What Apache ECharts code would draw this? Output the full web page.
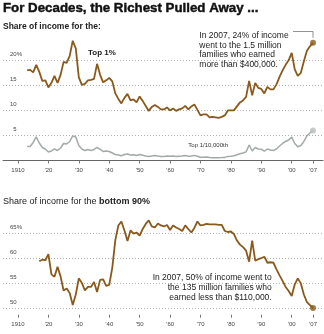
<!DOCTYPE html>
<html><head><meta charset="utf-8">
<script src="https://cdn.jsdelivr.net/npm/echarts@6/dist/echarts.min.js"></script>
<style>html,body{margin:0;padding:0;background:#fff}#c{width:324px;height:334px}</style>
</head><body><div id="c"></div>
<script>
// ---------- data ----------
const top1Years = [1913,1914,1915,1916,1917,1918,1919,1920,1921,1922,1923,1924,1925,1926,1927,1928,1929,1930,1931,1932,1933,1934,1935,1936,1937,1938,1939,1940,1941,1942,1943,1944,1945,1946,1947,1948,1949,1950,1951,1952,1953,1954,1955,1956,1957,1958,1959,1960,1961,1962,1963,1964,1965,1966,1967,1968,1969,1970,1971,1972,1973,1974,1975,1976,1977,1978,1979,1980,1981,1982,1983,1984,1985,1986,1987,1988,1989,1990,1991,1992,1993,1994,1995,1996,1997,1998,1999,2000,2001,2002,2003,2004,2005,2006,2007];
const top1Share = [18.0,18.1,17.6,19.1,17.7,15.9,16.0,14.6,15.5,16.9,15.5,17.1,19.7,19.5,20.9,23.9,22.4,16.6,15.1,15.3,16.0,16.1,16.3,19.3,17.1,15.6,16.0,16.5,15.8,13.4,12.3,11.4,12.5,13.3,12.0,12.2,11.6,12.8,11.9,10.9,9.9,10.7,11.1,10.7,10.2,10.2,10.6,10.0,10.4,9.9,10.2,10.4,10.9,10.2,10.8,11.2,10.1,9.0,9.2,9.2,8.6,8.7,8.6,8.5,8.7,9.0,10.0,10.0,10.0,10.8,11.6,12.0,12.7,15.9,13.0,15.5,14.5,14.3,13.4,14.7,14.2,14.2,15.2,16.7,18.0,19.1,20.0,21.5,18.2,16.9,17.5,19.8,21.9,22.8,23.5];
const top001Share = [2.8,2.8,3.6,4.7,3.5,2.6,2.3,1.7,1.9,2.3,2.0,2.5,3.4,3.3,3.8,4.9,4.7,3.0,2.3,2.0,2.2,2.0,2.2,2.6,2.2,1.8,1.9,1.8,1.5,1.2,1.1,0.95,1.2,1.3,1.1,1.15,1.0,1.2,1.05,0.9,0.8,0.9,1.0,0.9,0.82,0.82,0.9,0.83,0.9,0.8,0.84,0.88,0.98,0.85,0.92,1.02,0.85,0.66,0.67,0.7,0.58,0.55,0.54,0.57,0.59,0.62,0.82,0.86,0.95,1.16,1.35,1.5,1.73,3.1,1.9,2.6,2.3,2.25,1.85,2.3,2.1,2.0,2.3,2.9,3.4,3.8,4.1,4.7,3.4,2.75,3.0,3.8,4.9,5.5,6.0];
const bottom90Years = [1917,1918,1919,1920,1921,1922,1923,1924,1925,1926,1927,1928,1929,1930,1931,1932,1933,1934,1935,1936,1937,1938,1939,1940,1941,1942,1943,1944,1945,1946,1947,1948,1949,1950,1951,1952,1953,1954,1955,1956,1957,1958,1959,1960,1961,1962,1963,1964,1965,1966,1967,1968,1969,1970,1971,1972,1973,1974,1975,1976,1977,1978,1979,1980,1981,1982,1983,1984,1985,1986,1987,1988,1989,1990,1991,1992,1993,1994,1995,1996,1997,1998,1999,2000,2001,2002,2003,2004,2005,2006,2007];
const bottom90Share = [59.4,59.7,59.6,60.8,56.8,56.3,58.3,56.4,53.6,54.0,53.1,50.7,52.8,56.0,55.1,53.6,54.3,54.3,55.3,53.3,55.7,55.8,54.5,54.7,58.1,63.6,66.5,67.3,65.5,63.4,65.5,64.9,65.1,64.5,65.8,66.8,67.5,66.3,66.1,66.9,66.5,66.3,66.6,65.6,66.5,66.1,65.8,65.4,66.5,65.8,65.1,66.0,67.3,66.5,66.6,66.8,66.7,66.7,66.7,66.6,66.6,65.4,65.2,65.3,64.8,63.5,62.7,62.2,61.5,59.3,63.5,59.5,59.8,60.0,60.3,59.1,59.2,59.1,57.8,56.6,55.5,54.3,53.5,52.5,54.8,56.0,55.0,52.8,51.3,50.7,50.1];
const xTickValues = [1910,1920,1930,1940,1950,1960,1970,1980,1990,2000,2007];
const topYTicks = [5,10,15,20];
const bottomYTicks = [50,55,60,65];

// ---------- style ----------
const FONT = 'Liberation Sans, Arial, Helvetica, sans-serif';
const brown = '#8a5a1c';
const grayLine = '#a2aaaa';
const gridColor = '#b0b0b0';
const tickLabelStyle = {fontFamily: FONT, fontSize: 6, color: '#444'};

function zip(xs, ys) { return xs.map((x, i) => [x, ys[i]]); }
function yearFmt(v) { return v === 1910 ? '1910' : '\u2019' + String(v).slice(2); }
function makeYFmt(topVal) {
  return function (v) {
    if (v === topVal) return v + '%';
    if (String(v).length === 1) return '{s|' + v + '}';
    return String(v);
  };
}

const chart = echarts.init(document.getElementById('c'), null, {renderer: 'canvas'});

function xAxisCfg(gi, showLine) {
  return {
    type: 'value', gridIndex: gi, min: 1905.07, max: 2010.29,
    axisLine: {show: showLine, onZero: false, lineStyle: {color: '#666', width: 1}},
    axisTick: {show: true, customValues: xTickValues, length: 3, lineStyle: {color: '#777', width: 1}},
    axisLabel: Object.assign({customValues: xTickValues, formatter: yearFmt, margin: 7}, tickLabelStyle),
    splitLine: {show: false}
  };
}
function yAxisCfg(gi, min, max, ticks, topVal) {
  return {
    type: 'value', gridIndex: gi, min: min, max: max,
    axisLine: {show: false},
    axisTick: {show: false, customValues: ticks},
    splitLine: {show: true, lineStyle: {color: gridColor, type: [1, 2], width: 1}},
    axisLabel: Object.assign({
      customValues: ticks, inside: true, margin: 7, verticalAlign: 'bottom', padding: [0, 0, 3, 0],
      formatter: makeYFmt(topVal), rich: {s: {padding: [0, 0, 0, 3.3], fontFamily: FONT, fontSize: 6, color: '#444'}}
    }, tickLabelStyle)
  };
}

chart.setOption({
  animation: false,
  backgroundColor: '#fff',
  grid: [
    {left: 3, right: 1, top: 40.3, height: 120.2},
    {left: 3, right: 1, top: 217.9, height: 96.8}
  ],
  xAxis: [xAxisCfg(0, true), xAxisCfg(1, false)],
  yAxis: [yAxisCfg(0, 0, 24, topYTicks, 20), yAxisCfg(1, 48.79, 68, bottomYTicks, 65)],
  series: [
    {type: 'line', xAxisIndex: 0, yAxisIndex: 0, data: zip(top1Years, top001Share), showSymbol: false,
     lineStyle: {color: grayLine, width: 1.5}, z: 3},
    {type: 'line', xAxisIndex: 0, yAxisIndex: 0, data: zip(top1Years, top1Share), showSymbol: false,
     lineStyle: {color: brown, width: 1.8}, z: 4},
    {type: 'line', xAxisIndex: 1, yAxisIndex: 1, data: zip(bottom90Years, bottom90Share), showSymbol: false,
     lineStyle: {color: brown, width: 1.8}, z: 4},
    {type: 'scatter', xAxisIndex: 0, yAxisIndex: 0, symbolSize: 6, z: 5,
     itemStyle: {color: '#b9bebe'},
     data: [[top1Years[top1Years.length - 1], top001Share[top001Share.length - 1]]]},
    {type: 'scatter', xAxisIndex: 0, yAxisIndex: 0, symbolSize: 6, z: 5,
     itemStyle: {color: brown},
     data: [[top1Years[top1Years.length - 1], top1Share[top1Share.length - 1]]]},
    {type: 'scatter', xAxisIndex: 1, yAxisIndex: 1, symbolSize: 6, z: 5,
     itemStyle: {color: brown},
     data: [[bottom90Years[bottom90Years.length - 1], bottom90Share[bottom90Share.length - 1]]]}
  ]
});

const endTop = chart.convertToPixel({xAxisIndex: 0, yAxisIndex: 0},
  [top1Years[top1Years.length - 1], top1Share[top1Share.length - 1]]);

chart.setOption({
  graphic: [
    {type: 'text', x: 3, y: 8.4, style: {text: 'For Decades, the Richest Pulled Away ...', fontFamily: FONT,
      fontSize: 13.3, fontWeight: 'bold', fill: '#111', stroke: '#111', lineWidth: 0.45,
      align: 'left', verticalAlign: 'middle'}},
    {type: 'text', x: 3, y: 27, style: {text: 'Share of income for the:', fontFamily: FONT,
      fontSize: 8.5, fontWeight: 'bold', fill: '#222', align: 'left', verticalAlign: 'middle'}},
    {type: 'text', x: 88, y: 52.5, style: {text: 'Top 1%', fontFamily: FONT,
      fontSize: 8, fontWeight: 'bold', fill: '#222', align: 'left', verticalAlign: 'middle'}},
    {type: 'text', x: 188.3, y: 145, style: {text: 'Top 1/10,000th', fontFamily: FONT,
      fontSize: 6, fill: '#333', align: 'left', verticalAlign: 'middle'}},
    {type: 'text', x: 199.3, y: 31.25, style: {
      text: 'In 2007, 24% of income\nwent to the 1.5 million\nfamilies who earned\nmore than $400,000.',
      fontFamily: FONT, fontSize: 8.5, lineHeight: 9.5, fill: '#222', align: 'left', verticalAlign: 'top'}},
    {type: 'polyline', shape: {points: [[293, 31.5], [endTop[0], 31.5], [endTop[0], endTop[1] - 5]]},
      style: {stroke: '#777', lineWidth: 0.8, fill: null}},
    {type: 'text', x: 3, y: 202, style: {
      text: 'Share of income for the {b|bottom 90%}',
      rich: {b: {fontFamily: FONT, fontSize: 9, fontWeight: 'bold', fill: '#222'}},
      fontFamily: FONT, fontSize: 9, fill: '#222', align: 'left', verticalAlign: 'middle'}},
    {type: 'text', x: 271.7, y: 272.7, style: {
      text: 'In 2007, 50% of income went to\nthe 135 million families who\nearned less than $110,000.',
      fontFamily: FONT, fontSize: 8.5, lineHeight: 10, fill: '#222', align: 'right', verticalAlign: 'top'}}
  ]
});
</script></body></html>
